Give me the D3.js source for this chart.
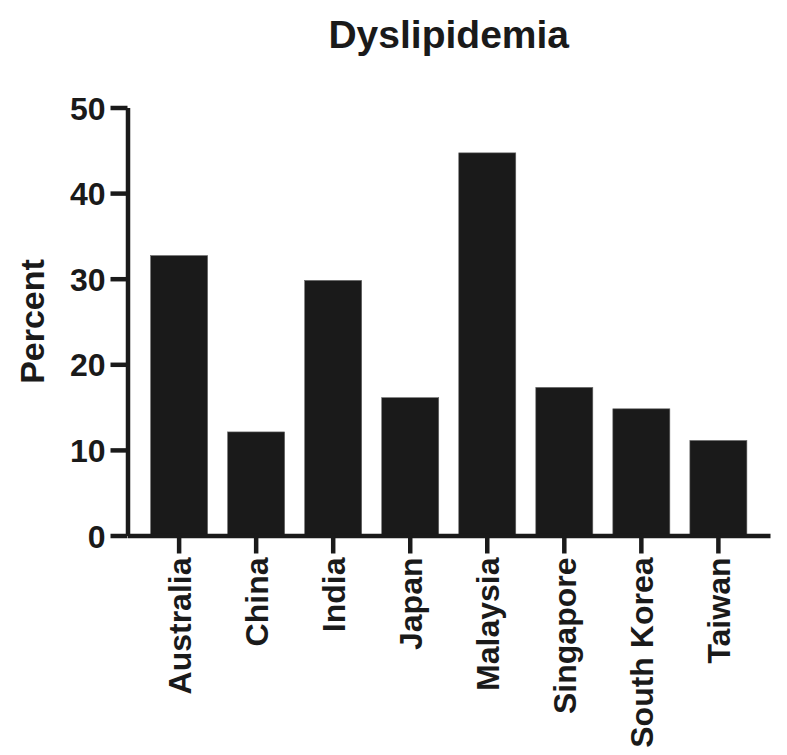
<!DOCTYPE html>
<html>
<head>
<meta charset="utf-8">
<script src="https://cdn.jsdelivr.net/npm/d3@7"></script>
<style>
  body { margin: 0; background: #fff; }
  text { font-family: "Liberation Sans", Arial, Helvetica, sans-serif; font-weight: 700; fill: #1a1a1a; }
</style>
</head>
<body>
<svg></svg>
<script>
// Dyslipidemia bar chart

// Data
var countries = ["Australia", "China", "India", "Japan", "Malaysia", "Singapore", "South Korea", "Taiwan"];
var percents = [32.7, 12.1, 29.8, 16.1, 44.7, 17.3, 14.8, 11.1];
var yTicks = [0, 10, 20, 30, 40, 50];

// Layout
var svgWidth = 787,
    svgHeight = 755,
    margin = {top: 107.5, right: 17, bottom: 219.5, left: 127.5},
    width = svgWidth - margin.left - margin.right,
    height = svgHeight - margin.top - margin.bottom,
    ink = "#1a1a1a";

var data = countries.map(function (c, i) { return {name: c, value: percents[i]}; });

var svg = d3.select("svg")
  .attr("width", svgWidth)
  .attr("height", svgHeight);

var g = svg.append("g")
  .attr("transform", "translate(" + [margin.left, margin.top] + ")");

var x = d3.scaleBand()
  .domain(countries)
  .range([0, width])
  .paddingInner(0.26)
  .paddingOuter(0.3);

var y = d3.scaleLinear()
  .domain([0, 50])
  .range([height, 0]);

// Bars
g.selectAll(".bar")
  .data(data)
  .enter()
    .append("rect")
    .classed("bar", true)
    .attr("x", function (d) { return x(d.name); })
    .attr("y", function (d) { return y(d.value); })
    .attr("width", x.bandwidth())
    .attr("height", function (d) { return height - y(d.value); })
    .style("fill", ink)
    .style("stroke", "#666")
    .style("stroke-width", 0.6);

// Y axis
var yAxis = g.append("g")
  .call(d3.axisLeft(y).tickValues(yTicks).tickSize(17).tickPadding(5).tickSizeOuter(0));

yAxis.select(".domain").attr("stroke", ink).attr("stroke-width", 4.5);
yAxis.selectAll(".tick line").attr("stroke", ink).attr("stroke-width", 4.5);
yAxis.selectAll(".tick text")
  .style("font-size", "32px")
  .attr("dy", "0.36em");

// X axis
var xAxis = g.append("g")
  .attr("transform", "translate(0," + height + ")")
  .call(d3.axisBottom(x).tickSize(18).tickPadding(6).tickSizeOuter(0));

xAxis.select(".domain").attr("stroke", ink).attr("stroke-width", 4.5);
xAxis.selectAll(".tick line").attr("stroke", ink).attr("stroke-width", 4.5);
xAxis.selectAll(".tick text")
  .style("font-size", "32px")
  .attr("text-anchor", "end")
  .attr("transform", "rotate(-90)")
  .attr("x", -22)
  .attr("y", 0)
  .attr("dy", "0.36em");

// Title
svg.append("text")
  .attr("x", margin.left + width / 2)
  .attr("y", 48)
  .attr("text-anchor", "middle")
  .style("font-size", "39px")
  .text("Dyslipidemia");

// Y label
svg.append("text")
  .attr("transform", "translate(" + [44, margin.top + height / 2] + ") rotate(-90)")
  .attr("text-anchor", "middle")
  .style("font-size", "34px")
  .text("Percent");
</script>
</body>
</html>
